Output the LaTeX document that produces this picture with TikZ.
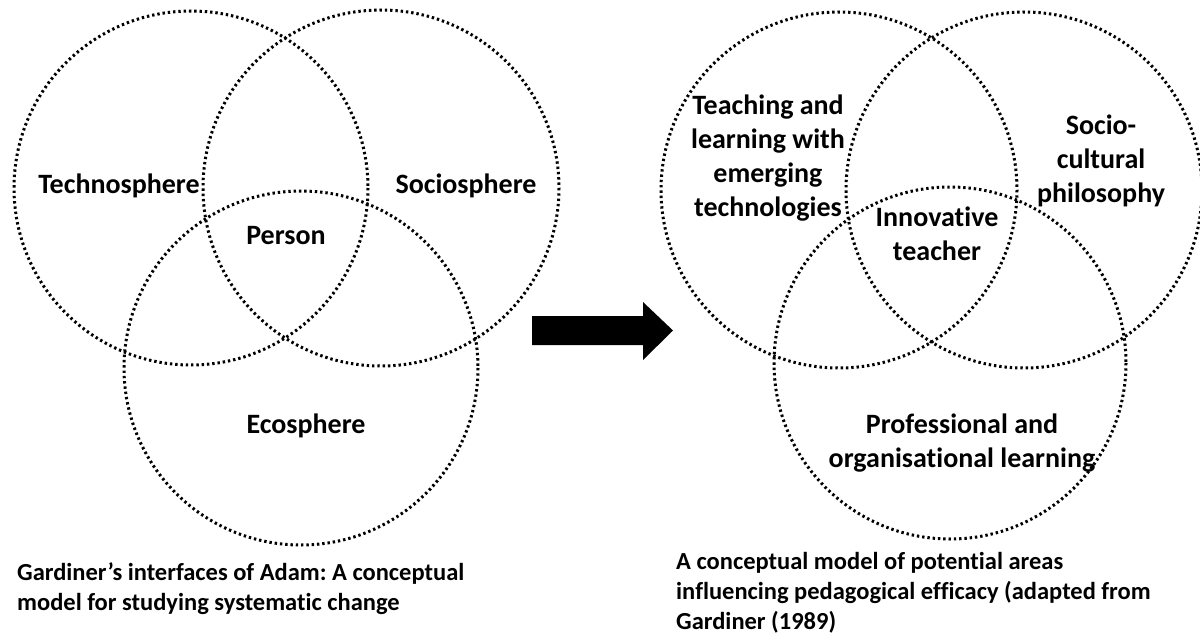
\documentclass[tikz,border=0pt]{standalone}
\usepackage{fontspec}
\setmainfont{Carlito}[Ligatures=NoCommon]
\frenchspacing
\begin{document}
\begin{tikzpicture}[x=1pt,y=-1pt,
  ring/.style={draw=black,line width=3pt,dash pattern=on 2.4pt off 2.9pt},
  lbl/.style={font=\fontsize{28}{34}\selectfont\bfseries,align=center,inner sep=0pt},
  captxt/.style={font=\fontsize{24.5}{30}\selectfont\bfseries,align=left,inner sep=0pt,anchor=north west}]
\useasboundingbox (0,0) rectangle (1200,634);
% left diagram
\draw[ring] (191,188) circle (177);
\draw[ring] (381,188) circle (178);
\draw[ring] (301,368) circle (177);
\node[lbl] (techno) at (119,186) {Technosphere};
\node[lbl] (socio) at (466,186) {Sociosphere};
\node[lbl] (person) at (286,236) {Person};
\node[lbl] (eco) at (306,426) {Ecosphere};
\node[captxt] (capl) at (17,562) {Gardiner’s interfaces of Adam: A conceptual\\model for studying systematic change};
% arrow
\fill[black] (532,316) -- (643,316) -- (643,302) -- (673,330.5) -- (643,360) -- (643,345) -- (532,345) -- cycle;
% right diagram
\draw[ring] (839,190) circle (178);
\draw[ring] (1024,190) circle (178);
\draw[ring] (950,363) circle (176);
\node[lbl] (teach) at (768,158) {Teaching and\\learning with\\emerging\\technologies};
\node[lbl] (sc) at (1101,161) {Socio-\\cultural\\philosophy};
\node[lbl] (inno) at (937,234) {Innovative\\teacher};
\node[lbl] (prof) at (962,443) {Professional and\\organisational learning};
\node[captxt] (capr) at (676,552) {A conceptual model of potential areas\\influencing pedagogical efficacy (adapted from\\Gardiner (1989)};
\end{tikzpicture}
\end{document}
